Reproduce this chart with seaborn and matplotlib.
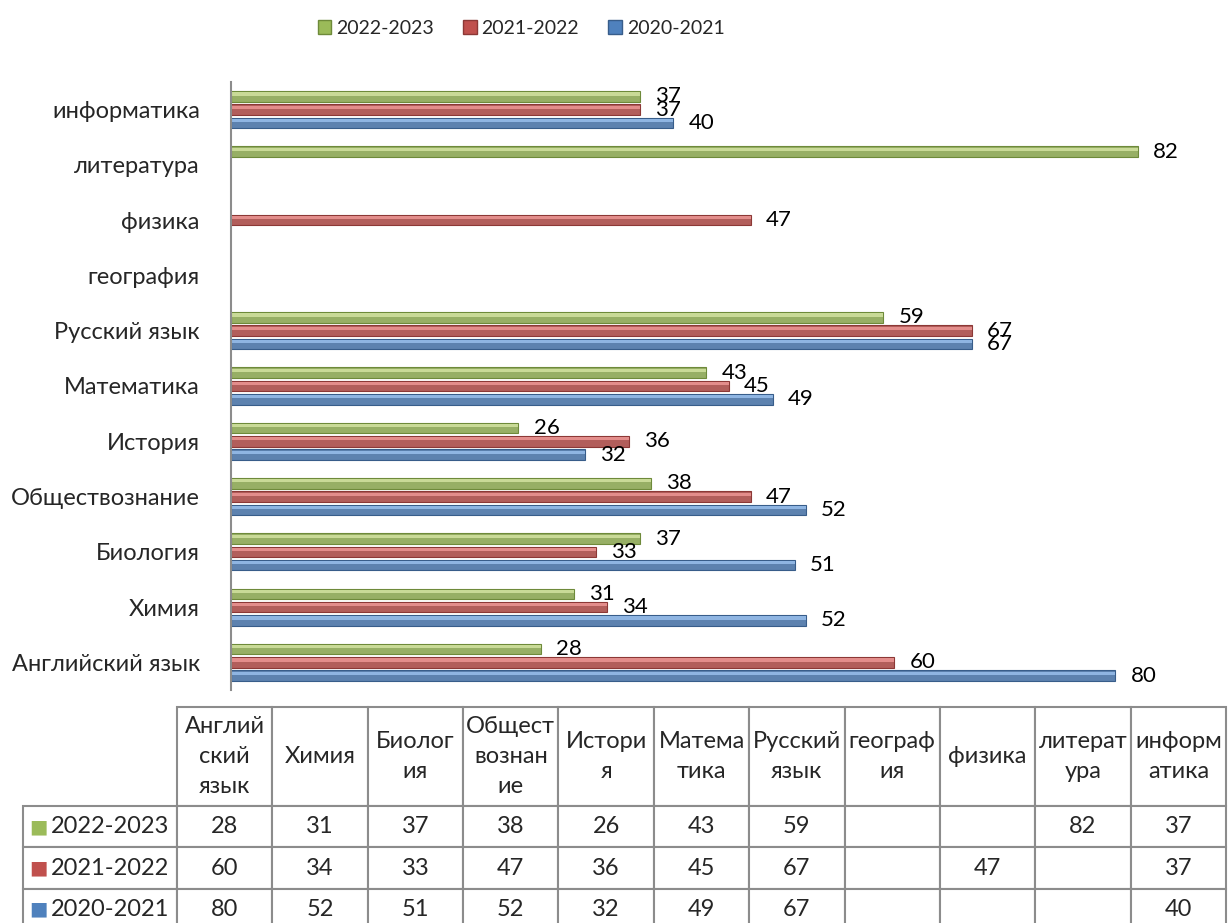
import numpy as np
import pandas as pd
import matplotlib
matplotlib.use("Agg")
import matplotlib.pyplot as plt
from matplotlib.patches import Patch, Rectangle
import seaborn as sns

subjects = ["Английский язык", "Химия", "Биология", "Обществознание", "История",
            "Математика", "Русский язык", "география", "физика", "литература", "информатика"]
header_labels = ["Англий\nский\nязык", "Химия", "Биолог\nия", "Общест\nвознан\nие",
                 "Истори\nя", "Матема\nтика", "Русский\nязык", "географ\nия", "физика",
                 "литерат\nура", "информ\nатика"]
years = ["2022-2023", "2021-2022", "2020-2021"]
v_2022_2023 = [28, 31, 37, 38, 26, 43, 59, np.nan, np.nan, 82, 37]
v_2021_2022 = [60, 34, 33, 47, 36, 45, 67, np.nan, 47, np.nan, 37]
v_2020_2021 = [80, 52, 51, 52, 32, 49, 67, np.nan, np.nan, np.nan, 40]

colors = ["#9BBB59", "#C0504D", "#4F81BD"]
light = ["#D6E6A4", "#F09A98", "#9CC3F0"]
dark = ["#6E8A3A", "#8C3836", "#385D8A"]

wide = pd.DataFrame({"subject": subjects, years[0]: v_2022_2023,
                     years[1]: v_2021_2022, years[2]: v_2020_2021})
data = wide.melt(id_vars="subject", var_name="year", value_name="value").dropna()

sns.set_style("white")
plt.rcParams["font.family"] = ["Lato", "DejaVu Sans"]

fig = plt.figure(figsize=(12.28, 9.23), dpi=100)
ax = fig.add_axes([231 / 1228, 233 / 923, 995 / 1228, 608 / 923])

sns.barplot(data=data, y="subject", x="value", hue="year", order=subjects[::-1],
            hue_order=years, palette=colors, orient="h", width=0.72, gap=0.2,
            legend=False, ax=ax)

for i, cont in enumerate(ax.containers):
    for p in cont:
        p.set_edgecolor(dark[i])
        p.set_linewidth(0.8)
        x0, y0, w, h = p.get_x(), p.get_y(), p.get_width(), p.get_height()
        ax.add_patch(Rectangle((x0, y0 + h * 0.12), w, h * 0.3, facecolor=light[i],
                               lw=0, alpha=0.8, zorder=p.get_zorder() + 0.1))
    ax.bar_label(cont, fmt="%g", padding=11, fontsize=16, color="black")

ax.set_xlim(0, 90)
ax.set_xlabel("")
ax.set_ylabel("")
ax.set_xticks([])
ax.tick_params(axis="y", left=False, pad=19, labelsize=17)
for s in ["top", "right", "bottom"]:
    ax.spines[s].set_visible(False)
ax.spines["left"].set_color("#8C8C8C")
ax.spines["left"].set_linewidth(1.5)

handles = [Patch(facecolor=c, edgecolor=d, label=y) for c, d, y in zip(colors, dark, years)]
fig.legend(handles=handles, loc="center", bbox_to_anchor=(521 / 1228, 1 - 28 / 923),
           ncol=3, frameon=False, fontsize=14, handlelength=0.7, handleheight=0.7,
           handletextpad=0.25, columnspacing=1.5)

# data table under the chart
tax = fig.add_axes([23 / 1228, -7 / 923, 1203 / 1228, 223 / 923])
tax.axis("off")
rows = []
for y, vals in zip(years, [v_2022_2023, v_2021_2022, v_2020_2021]):
    rows.append([y] + ["" if np.isnan(v) else f"{v:g}" for v in vals])
col_w = [154] + [95.36] * 11
table = tax.table(cellText=rows, colLabels=[""] + header_labels, colWidths=col_w,
                  cellLoc="center", bbox=[0, 0, 1, 1])
table.auto_set_font_size(False)
table.set_fontsize(17)
for (r, c), cell in table.get_celld().items():
    cell.set_edgecolor("#8C8C8C")
    cell.set_linewidth(1.5)
    cell.set_height(99 if r == 0 else 41.3)
    cell.get_text().set_linespacing(1.55)
    if r == 0 and c == 0:
        cell.visible_edges = ""
    if c == 0 and r > 0:
        cell.get_text().set_ha("right")
        cell.PAD = 0.05
        cell._loc = "right"

fig.canvas.draw()
for r in range(1, 4):
    cell = table[r, 0]
    tax.text(cell.get_x() + cell.get_width() * 0.1, cell.get_y() + cell.get_height() / 2,
             "■", color=colors[r - 1], fontsize=14, family="DejaVu Sans",
             ha="center", va="center", transform=tax.transAxes)

fig.savefig("out.png", dpi=100)
